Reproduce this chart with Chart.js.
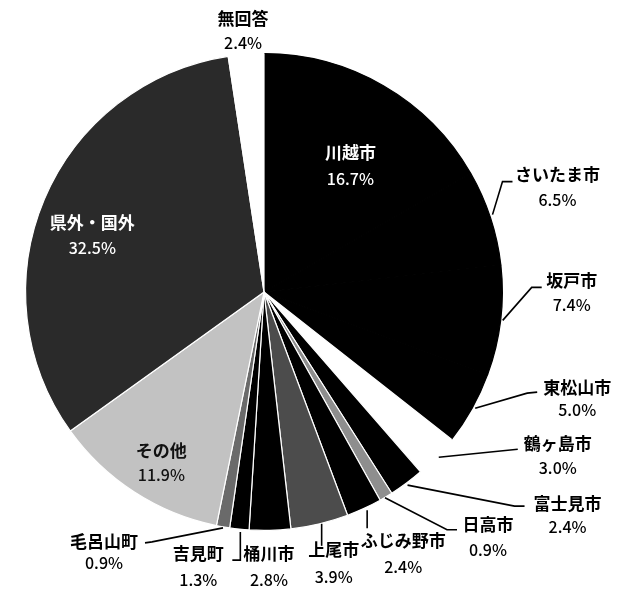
<!DOCTYPE html>
<html><head><meta charset="utf-8">
<script src="https://cdn.jsdelivr.net/npm/chart.js@4/dist/chart.umd.min.js"></script>
<style>html,body{margin:0;padding:0;background:#fff;}#wrap{width:624px;height:589px;}</style>
</head><body><div id="wrap"><canvas id="c" width="624" height="589"></canvas></div>
<script>
// ---- data ----
const categories = ['川越市','さいたま市','坂戸市','東松山市','鶴ヶ島市','富士見市','日高市','ふじみ野市','上尾市','桶川市','吉見町','毛呂山町','その他','県外・国外','無回答'];
const percentages = [16.7, 6.5, 7.4, 5.0, 3.0, 2.4, 0.9, 2.4, 3.9, 2.8, 1.3, 0.9, 11.9, 32.5, 2.4];

// ---- styles ----
const sliceColors  = ['#000','#000','#000','#000','#fff','#000','#8e8e8e','#000','#4c4c4c','#000','#000','#6a6a6a','#c2c2c2','#2a2a2a','#fff'];
const sliceBorders = ['#000','#000','#000','#000','#fff','#fff','#fff','#fff','#fff','#fff','#fff','#fff','#fff','#fff','#fff'];
const textColors   = ['#fff','#000','#000','#000','#000','#000','#000','#000','#000','#000','#000','#000','#111','#fff','#000'];
// label name-centre offset from the slice's outer mid point
const labelOffsets = [[-33,67],[67,-43],[71,-40],[105,-21],[121,-13],[161,20],[102,28],[39,32],[14,26],[-1,23],[-41,24],[-119,15],[27,-42],[48,23],[-3,-36]];
const pctGap       = [26,25,25,23,25,24,25,27,27,27,27,21,25,26,25];
// leader polylines, relative to slice's outer mid point
const leaders = [
  null,
  [[2,-3],[12,-36],[22,-36]],
  [[2,0],[31,-33],[41,-33]],
  [[3,0],[55,-15],[65,-16]],
  [[2,1],[81,-7]],
  [[1,2],[108,23],[118,23]],
  [[-1,1],[61,33],[71,33]],
  [[3,2],[3,20]],
  [[2,0],[2,22]],
  null,
  [[1,3],[1,31],[-7,31]],
  [[0,1],[-71,15],[-78,16]],
  null, null, null
];

const labelPlugin = {
  id: 'pieLabels',
  afterDraw(chart) {
    const ctx = chart.ctx;
    const meta = chart.getDatasetMeta(0);
    meta.data.forEach((arc, i) => {
      const p = arc.getProps(['x','y','startAngle','endAngle','outerRadius'], true);
      const mid = (p.startAngle + p.endAngle) / 2;
      const ex = p.x + Math.cos(mid) * p.outerRadius;
      const ey = p.y + Math.sin(mid) * p.outerRadius;
      ctx.save();
      if (leaders[i]) {
        ctx.beginPath();
        leaders[i].forEach((pt, k) => {
          const px = ex + pt[0], py = ey + pt[1];
          if (k === 0) ctx.moveTo(px, py); else ctx.lineTo(px, py);
        });
        ctx.strokeStyle = '#000';
        ctx.lineWidth = 1.6;
        ctx.stroke();
      }
      const lx = ex + labelOffsets[i][0];
      const ly = ey + labelOffsets[i][1];
      ctx.textAlign = 'center';
      ctx.textBaseline = 'middle';
      ctx.fillStyle = textColors[i];
      ctx.font = 'bold 17px "Noto Sans CJK JP"';
      ctx.fillText(categories[i], lx, ly);
      ctx.font = '500 16px "Noto Sans CJK JP"';
      ctx.fillText(percentages[i].toFixed(1) + '%', lx, ly + pctGap[i]);
      ctx.restore();
    });
  }
};

new Chart(document.getElementById('c'), {
  type: 'pie',
  data: {
    labels: categories,
    datasets: [{
      data: percentages,
      backgroundColor: sliceColors,
      borderColor: sliceBorders,
      borderWidth: 1.2
    }]
  },
  options: {
    responsive: false,
    animation: false,
    events: [],
    layout: { padding: { left: 25, top: 53, right: 121, bottom: 58 } },
    plugins: { legend: { display: false }, tooltip: { enabled: false } }
  },
  plugins: [labelPlugin]
});
</script></body></html>
